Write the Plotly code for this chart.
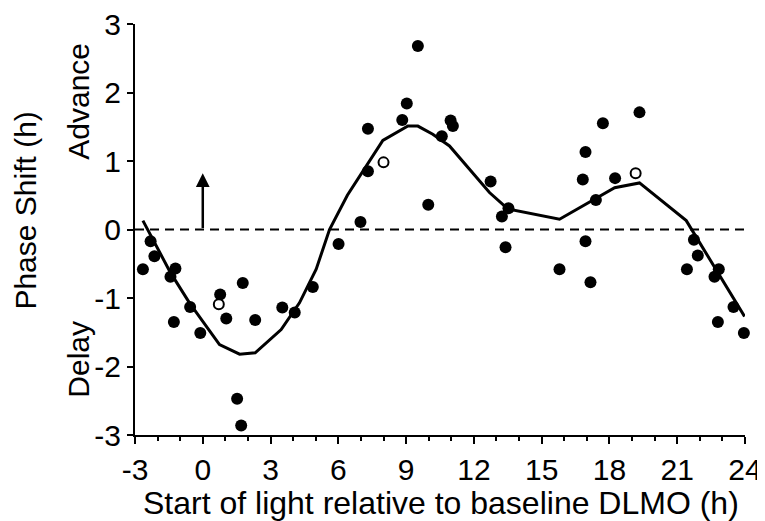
import plotly.graph_objects as go

# filled circles
fx = [-2.65, -2.31, -2.14, -1.43, -1.21, -1.28, -0.56, -0.11, 0.77, 1.04, 1.77, 2.32, 1.52, 1.70,
      3.52, 4.07, 4.87, 6.01, 6.98, 7.31, 7.31, 8.83, 9.03, 9.52, 9.98, 10.58, 10.97, 11.07,
      12.74, 13.24, 13.53, 13.40, 15.79, 16.82, 16.94, 16.94, 17.16, 17.40, 17.71, 18.25, 19.33,
      21.43, 21.74, 21.91, 22.65, 22.84, 22.80, 23.49, 23.95]
fy = [-0.58, -0.17, -0.39, -0.69, -0.57, -1.35, -1.13, -1.51, -0.95, -1.30, -0.78, -1.32, -2.47, -2.86,
      -1.14, -1.21, -0.84, -0.21, 0.11, 0.85, 1.47, 1.60, 1.84, 2.68, 0.36, 1.36, 1.59, 1.51,
      0.70, 0.19, 0.31, -0.26, -0.58, 0.73, 1.13, -0.17, -0.77, 0.43, 1.55, 0.75, 1.71,
      -0.58, -0.15, -0.38, -0.69, -0.58, -1.35, -1.13, -1.51]

# open circles
ox = [0.71, 8.0, 19.16]
oy = [-1.09, 0.98, 0.82]

# fitted curve
cx = [-2.65, -1.43, -0.59, 0.15, 0.74, 1.63, 2.32, 3.47, 4.28, 5.02, 5.61, 6.4, 7.23, 7.97,
      9.08, 9.52, 10.18, 10.92, 12.69, 13.5, 15.79, 17.42, 18.23, 19.33, 21.40, 23.98]
cy = [0.13, -0.63, -1.07, -1.41, -1.68, -1.82, -1.80, -1.46, -1.07, -0.58, 0.0, 0.5, 0.93, 1.30,
      1.51, 1.51, 1.39, 1.22, 0.54, 0.30, 0.15, 0.45, 0.61, 0.68, 0.13, -1.27]

xticks = [-3, 0, 3, 6, 9, 12, 15, 18, 21, 24]
yticks = [-3, -2, -1, 0, 1, 2, 3]

arrow_x = 0
arrow_y = 0.82

FONT = "Liberation Sans, Arial, sans-serif"

fig = go.Figure()
fig.add_trace(go.Scatter(x=[-3, 24], y=[0, 0], mode="lines",
                         line=dict(color="black", width=2, dash="9px,6px"),
                         hoverinfo="skip", showlegend=False))
fig.add_trace(go.Scatter(x=cx, y=cy, mode="lines",
                         line=dict(color="black", width=3), showlegend=False))
fig.add_trace(go.Scatter(x=fx, y=fy, mode="markers",
                         marker=dict(color="black", size=12, line=dict(width=0)),
                         showlegend=False, cliponaxis=False))
fig.add_trace(go.Scatter(x=ox, y=oy, mode="markers",
                         marker=dict(color="white", size=10, line=dict(color="black", width=2)),
                         showlegend=False, cliponaxis=False))

fig.add_annotation(x=arrow_x, y=arrow_y, ax=arrow_x, ay=0, xref="x", yref="y",
                   axref="x", ayref="y", text="", showarrow=True,
                   arrowhead=2, arrowsize=1.1, arrowwidth=2.5, arrowcolor="black")

fig.add_annotation(x=-0.092, y=0.813, xref="paper", yref="paper", text="Advance",
                   textangle=-90, showarrow=False, font=dict(family=FONT, size=30, color="black"),
                   xanchor="center", yanchor="middle")
fig.add_annotation(x=-0.093, y=0.184, xref="paper", yref="paper", text="Delay",
                   textangle=-90, showarrow=False, font=dict(family=FONT, size=30, color="black"),
                   xanchor="center", yanchor="middle")
fig.add_annotation(x=-0.181, y=0.545, xref="paper", yref="paper", text="Phase Shift (h)",
                   textangle=-90, showarrow=False, font=dict(family=FONT, size=30, color="black"),
                   xanchor="center", yanchor="middle")
fig.add_annotation(x=0.502, y=-0.166, xref="paper", yref="paper",
                   text="Start of light relative to baseline DLMO (h)",
                   showarrow=False, font=dict(family=FONT, size=32, color="black"),
                   xanchor="center", yanchor="middle")

fig.update_xaxes(range=[-3, 24], tickvals=xticks, ticktext=[str(v) for v in xticks],
                 showgrid=False, zeroline=False, showline=True, linecolor="black", linewidth=2,
                 ticks="outside", ticklen=7, tickwidth=2, tickcolor="black", automargin=False,
                 ticklabeloverflow="allow",
                 tickfont=dict(family=FONT, size=30, color="black"),
                 minor=dict(dtick=1, tick0=0, ticks="outside", ticklen=4, tickwidth=2, tickcolor="black"))
fig.update_yaxes(range=[-3, 3], tickvals=yticks, ticktext=[str(v) for v in yticks],
                 showgrid=False, zeroline=False, showline=True, linecolor="black", linewidth=2,
                 ticks="outside", ticklen=6, tickwidth=2, tickcolor="black", automargin=False,
                 ticklabeloverflow="allow",
                 tickfont=dict(family=FONT, size=30, color="black"))

# page adds an 8px body margin, so the figure is sized to fit inside the window
fig.update_layout(width=757, height=513, plot_bgcolor="white", paper_bgcolor="white",
                  margin=dict(l=127, r=20, t=16, b=86, autoexpand=False), showlegend=False)

fig.write_html("out.html")
